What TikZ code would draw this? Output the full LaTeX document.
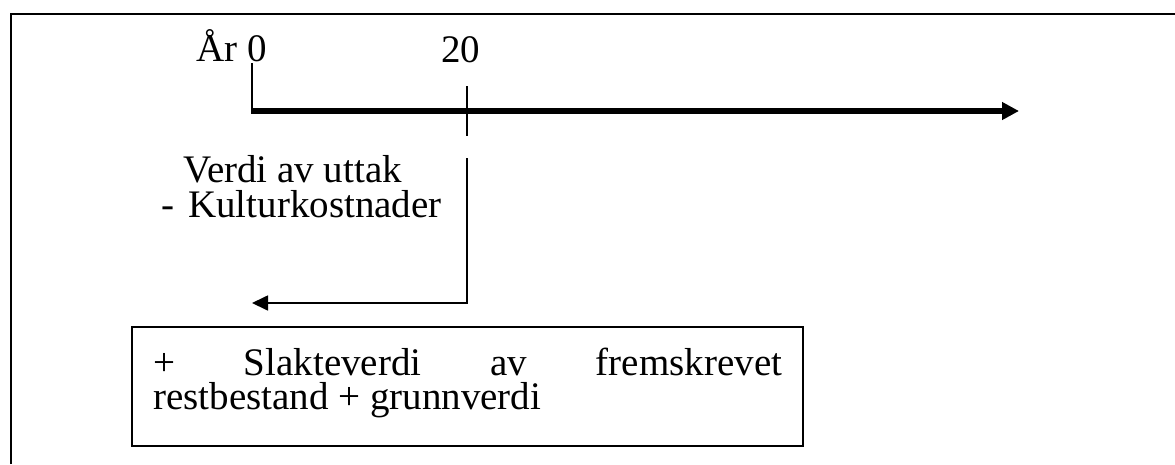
\documentclass[tikz,border=0pt]{standalone}
\usepackage{fontspec}
\setmainfont{Liberation Serif}
\usetikzlibrary{arrows.meta}
\tikzset{
  lbl/.style={inner sep=0pt, anchor=base west, font=\fontsize{39}{34}\selectfont},
  thin line/.style={line width=1.7pt},
  axis line/.style={line width=5.5pt, -{Triangle[length=17pt,width=17pt]}},
  back arrow/.style={line width=1.7pt, -{Triangle[length=16pt,width=15pt]}},
  frame line/.style={line width=2.4pt},
}
\begin{document}
\begin{tikzpicture}[x=1pt,y=-1pt]
\useasboundingbox (0,0) rectangle (1175,464);

% outer frame
\draw[frame line] (11,464) -- (11,14) -- (1175,14);

% year labels
\node[lbl] (yr0) at (196,61) {År 0};
\node[lbl] (yr20) at (441,62) {20};

% time axis
\coordinate (o0) at (252,63);
\coordinate (a0) at (252,111);
\coordinate (aend) at (1019,111);
\draw[thin line] (o0) -- (a0);
\draw[axis line] ([xshift=-0.85pt]a0) -- (aend);

% tick at year 20
\coordinate (t20a) at (467,86);
\coordinate (t20b) at (467,136);
\draw[thin line] (t20a) -- (t20b);

% flow labels
\node[lbl] (verdi) at (183,182) {Verdi av uttak};
\node[lbl] (minus) at (161,217) {-};
\node[lbl] (kult) at (188,217) {Kulturkostnader};

% discounting back to year 0
\coordinate (d1) at (467,158);
\coordinate (d2) at (467,303);
\coordinate (d3) at (252,303);
\draw[back arrow] (d1) -- (d2) -- (d3);

% terminal value box
\draw[frame line] (132,327) rectangle (803,446);
\node[lbl, anchor=north west, text width=629pt, align=justify] (slakt) at (153,348)
  {+ Slakteverdi av fremskrevet\linebreak restbestand + grunnverdi};
\end{tikzpicture}
\end{document}
